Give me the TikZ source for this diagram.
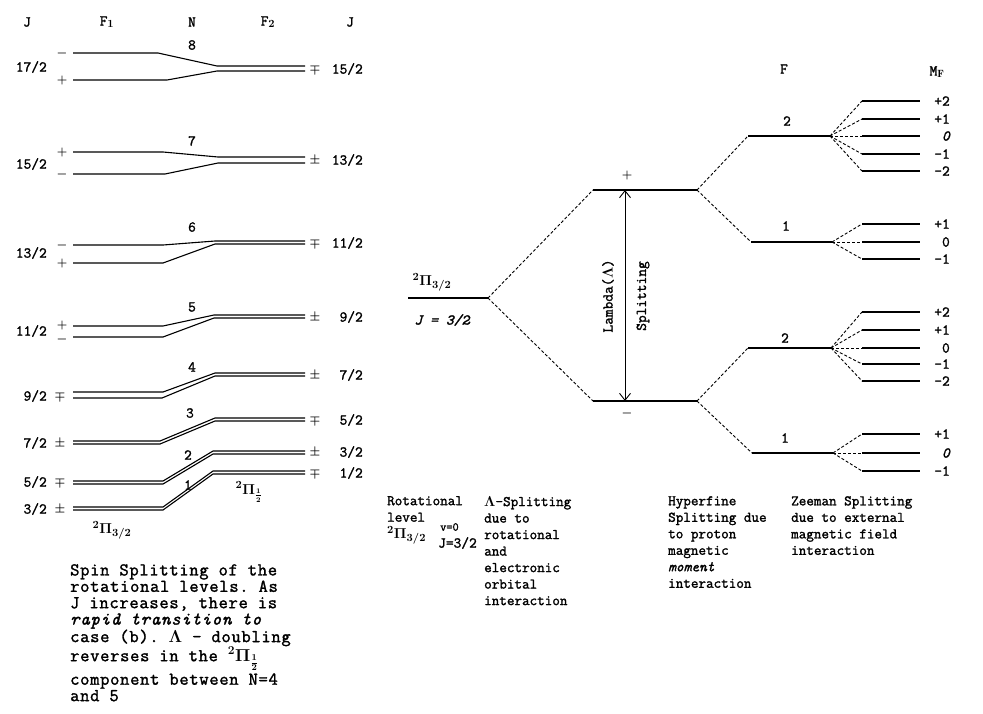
\documentclass[tikz,border=0pt]{standalone}
\usepackage{fontspec}
\setmonofont{Latin Modern Mono}[FakeBold=1.6]
\usetikzlibrary{arrows.meta}
\begin{document}
\begin{tikzpicture}[x=1pt,y=-1pt,
  lvl/.style={line width=1.3pt},
  plvl/.style={line width=1.1pt},
  dsh/.style={line width=0.9pt,dash pattern=on 3pt off 2pt},
  lbl/.style={inner sep=0pt,font=\ttfamily\boldmath\fontsize{15}{16}\selectfont},
  sgn/.style={inner sep=0pt,font=\ttfamily\boldmath\fontsize{12}{13}\selectfont},
  captxt/.style={inner sep=0pt,align=left,anchor=north west,font=\ttfamily\boldmath\fontsize{14.7}{16.5}\selectfont},
  bigcaptxt/.style={inner sep=0pt,align=left,anchor=north west,font=\ttfamily\boldmath\fontsize{18}{16.4}\selectfont\addfontfeature{LetterSpace=4}},
  dblarrow/.style={{Straight Barb[length=7pt,width=11pt]}-{Straight Barb[length=7pt,width=11pt]},line width=0.9pt}
]
\useasboundingbox (0,0) rectangle (983,713);
\fill[white] (0,0) rectangle (983,713);

% ---------------- left panel ----------------
\node[lbl] (hJ1) at (27,22) {J};
\node[lbl] (hF1) at (107,22) {F$_1$};
\node[lbl] (hN) at (192,22) {N};
\node[lbl] (hF2) at (268,22) {F$_2$};
\node[lbl] (hJ2) at (350,22) {J};

\foreach \n/\lu/\ll/\ru/\rl/\xa/\xb/\xc in {8/53/80/66/71/158/167/217, 7/152/174/157/163/163/165/218, 6/245/263/241/244/163/163/215, 5/326/337/315/318/163/163/214, 4/392/398/373/376/163/162/215, 3/441/444/418/421/160/160/215, 2/481/484/451/454/163/163/213, 1/507/510/471/474/163/163/213}{
  \coordinate (a\n) at (73,\lu);
  \coordinate (b\n) at (\xa,\lu);
  \coordinate (c\n) at (\xc,\ru);
  \coordinate (d\n) at (305,\ru);
  \coordinate (e\n) at (73,\ll);
  \coordinate (f\n) at (\xb,\ll);
  \coordinate (g\n) at (\xc,\rl);
  \coordinate (h\n) at (305,\rl);
  \draw[plvl] (a\n) -- (b\n) -- (c\n) -- (d\n);
  \draw[plvl] (e\n) -- (f\n) -- (g\n) -- (h\n);
}

\foreach \n/\y/\num in {8/67/17, 7/164/15, 6/253/13, 5/331/11, 4/396/9, 3/443/7, 2/482/5, 1/509/3}{
  \node[lbl,anchor=east] (jl\n) at (47,\y) {\num/2};
}
\foreach \n/\y/\num in {8/69/15, 7/160/13, 6/243/11, 5/317/9, 4/375/7, 3/420/5, 2/452/3, 1/473/1}{
  \node[lbl,anchor=east] (jr\n) at (363,\y) {\num/2};
}
\foreach \n/\y/\s in {8/69/\mp, 7/160/\pm, 6/243/\mp, 5/317/\pm, 4/375/\pm, 3/420/\mp, 2/452/\pm, 1/473/\mp}{
  \node[sgn] (sr\n) at (315,\y) {$\s$};
}
\foreach \n/\x/\y in {8/192/45, 7/192/141, 6/192/227, 5/192/307, 4/192/367, 3/190/413, 2/188/455, 1/188/485}{
  \node[lbl] (nn\n) at (\x,\y) {\n};
}
% left signs
\node[sgn] (s8u) at (62,53) {$-$};
\node[sgn] (s8l) at (62,80) {$+$};
\node[sgn] (s7u) at (62,152) {$+$};
\node[sgn] (s7l) at (62,174) {$-$};
\node[sgn] (s6u) at (62,245) {$-$};
\node[sgn] (s6l) at (62,263) {$+$};
\node[sgn] (s5u) at (62,325) {$+$};
\node[sgn] (s5l) at (62,339) {$-$};
\node[sgn] (s4) at (60,396) {$\mp$};
\node[sgn] (s3) at (60,443) {$\pm$};
\node[sgn] (s2) at (60,482) {$\mp$};
\node[sgn] (s1) at (60,509) {$\pm$};

\node[lbl] (pi32) at (112,530) {$^{2}\Pi_{3/2}$};
\node[lbl] (pi12) at (249,492) {$^{2}\Pi_{\frac{1}{2}}$};

\node[bigcaptxt] (capL) at (70,564) {Spin Splitting of the\\rotational levels. As\\J increases, there is\\{\itshape rapid transition to}\\case (b). $\Lambda$ - doubling\\reverses in the $^{2}\Pi_{\frac{1}{2}}$\\[2pt]component between N=4\\and 5};

% ---------------- right diagram ----------------
\coordinate (rotl) at (408,298);
\coordinate (rotr) at (488,298);
\draw[lvl] (rotl) -- (rotr);
\node[lbl] (rotpi) at (432,282) {$^{2}\Pi_{3/2}$};
\node[lbl] (rotJ) at (442,320) {\itshape J = 3/2};

\coordinate (lul) at (593,190);
\coordinate (lur) at (697,190);
\coordinate (ldl) at (593,401);
\coordinate (ldr) at (697,401);
\draw[lvl] (lul) -- (lur);
\draw[lvl] (ldl) -- (ldr);
\draw[dsh] (rotr) -- (lul);
\draw[dsh] (rotr) -- (ldl);
\node[sgn] (plus) at (627,175) {$+$};
\node[sgn] (minus) at (627,413) {$-$};
\coordinate (arT) at (625,190);
\coordinate (arB) at (625,401);
\draw[dblarrow] (arT) -- (arB);
\node[lbl,rotate=90] (lam) at (608,296) {Lambda($\Lambda$)};
\node[lbl,rotate=90] (spl) at (643,296) {Splitting};

% hyperfine
\coordinate (hu2l) at (748,136); \coordinate (hu2r) at (830,136);
\coordinate (hu1l) at (751,242); \coordinate (hu1r) at (832,242);
\coordinate (hl2l) at (748,348); \coordinate (hl2r) at (831,348);
\coordinate (hl1l) at (752,453); \coordinate (hl1r) at (833,453);
\draw[lvl] (hu2l) -- (hu2r);
\draw[lvl] (hu1l) -- (hu1r);
\draw[lvl] (hl2l) -- (hl2r);
\draw[lvl] (hl1l) -- (hl1r);
\draw[dsh] (lur) -- (hu2l);
\draw[dsh] (lur) -- (hu1l);
\draw[dsh] (ldr) -- (hl2l);
\draw[dsh] (ldr) -- (hl1l);
\node[lbl] (fu2) at (787,121) {2};
\node[lbl] (fu1) at (786,226) {1};
\node[lbl] (fl2) at (785,338) {2};
\node[lbl] (fl1) at (785,438) {1};
\node[lbl] (hF) at (784,69) {F};
\node[lbl] (hMF) at (937,72) {M$_\mathrm{F}$};

% zeeman
\foreach \g/\src/\y/\t in {a/hu2r/101/+2, b/hu2r/119/+1, c/hu2r/136/{\itshape 0}, d/hu2r/154/-1, e/hu2r/171/-2,
  f/hu1r/224/+1, g/hu1r/242/0, h/hu1r/259/-1,
  i/hl2r/312/+2, j/hl2r/330/+1, k/hl2r/348/0, l/hl2r/364/-1, m/hl2r/381/-2,
  n/hl1r/434/+1, o/hl1r/453/{\itshape 0}, p/hl1r/471/-1}{
  \coordinate (z\g l) at (862,\y);
  \coordinate (z\g r) at (920,\y);
  \draw[dsh] (\src) -- (z\g l);
  \draw[lvl] (z\g l) -- (z\g r);
  \node[lbl,anchor=east] (zt\g) at (950,\y) {\t};
}

% captions
\node[captxt] (c1) at (387,496) {Rotational\\level};
\node[lbl,anchor=west] (c1pi) at (387,535) {$^{2}\Pi_{3/2}$};
\node[sgn,anchor=west] (c1v) at (440,527) {v=0};
\node[lbl,anchor=west] (c1J) at (438,543) {J=3/2};
\node[captxt] (c2) at (484,496) {$\Lambda$-Splitting\\due to\\rotational\\and\\electronic\\orbital\\interaction};
\node[captxt] (c3) at (668,496) {Hyperfine\\Splitting due\\to proton\\magnetic\\{\itshape moment}\\interaction};
\node[captxt] (c4) at (791,496) {Zeeman Splitting\\due to external\\magnetic field\\interaction};
\end{tikzpicture}
\end{document}
